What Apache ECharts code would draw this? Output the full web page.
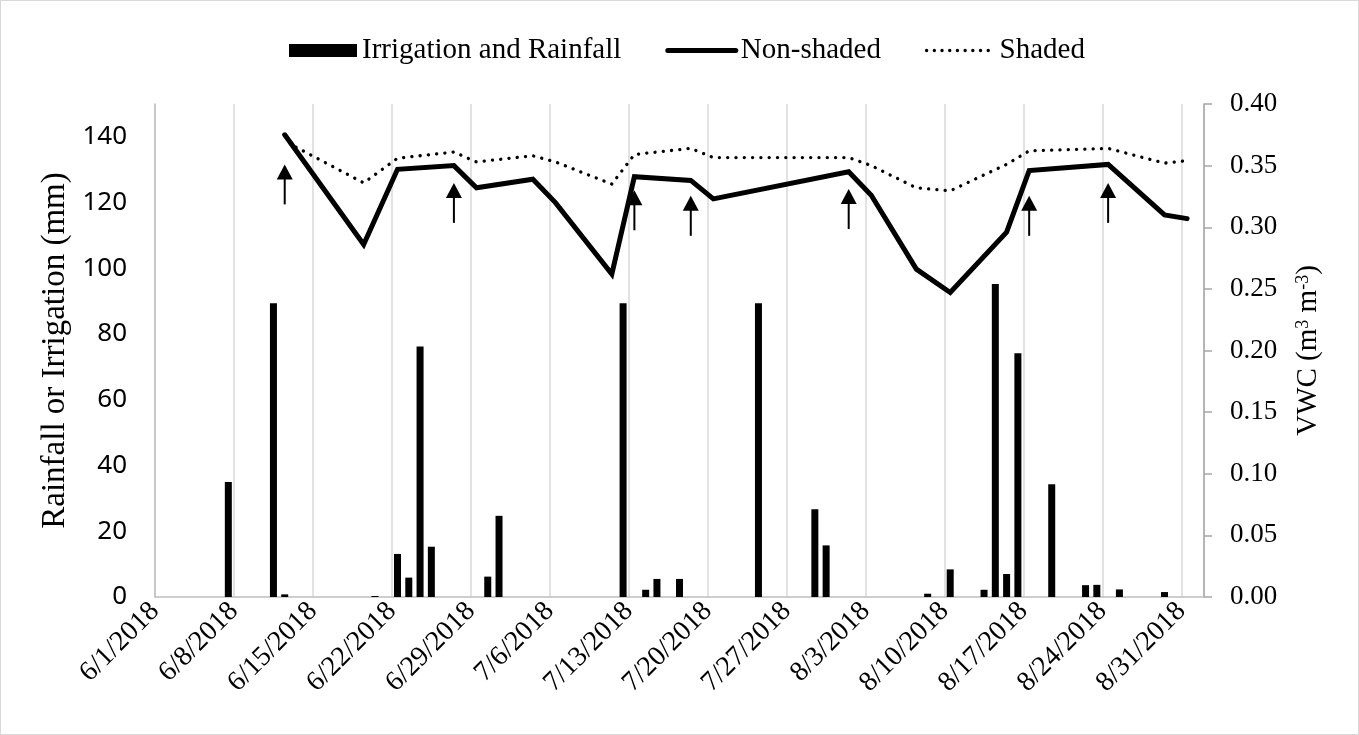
<!DOCTYPE html>
<html>
<head>
<meta charset="utf-8">
<script src="https://cdn.jsdelivr.net/npm/echarts@6/dist/echarts.min.js"></script>
<style>
html,body{margin:0;padding:0;background:#fff;}
#c{width:1359px;height:735px;box-sizing:border-box;border:1px solid #d9d9d9;}
</style>
</head>
<body>
<div id="c"></div>
<script>
// ---------- data ----------
const xTickLabels = ['6/1/2018','6/8/2018','6/15/2018','6/22/2018','6/29/2018','7/6/2018','7/13/2018','7/20/2018','7/27/2018','8/3/2018','8/10/2018','8/17/2018','8/24/2018','8/31/2018'];
const leftTicks = [0,20,40,60,80,100,120,140];

const rainDates = ['6/7','6/11','6/12','6/20','6/22','6/23','6/24','6/25','6/30','7/1','7/12','7/14','7/15','7/17','7/24','7/29','7/30','8/8','8/10','8/13','8/14','8/15','8/16','8/19','8/22','8/23','8/25','8/29'];
const rainValues = [35,89.4,0.8,0.3,13.1,5.9,76.2,15.3,6.2,24.7,89.4,2.2,5.5,5.5,89.4,26.7,15.7,1.0,8.4,2.2,95.2,7.0,74.2,34.3,3.6,3.7,2.3,1.5];

const nonShadedDates = ['6/12','6/19','6/22','6/27','6/29','7/4','7/6','7/11','7/13','7/18','7/20','8/1','8/3','8/7','8/10','8/15','8/17','8/24','8/29','8/31'];
const nonShadedValues = [0.375,0.286,0.347,0.350,0.332,0.339,0.320,0.262,0.341,0.338,0.323,0.345,0.326,0.266,0.247,0.296,0.346,0.351,0.310,0.307];

const shadedDates = ['6/13','6/19','6/22','6/27','6/29','7/4','7/6','7/11','7/13','7/18','7/20','8/1','8/3','8/7','8/10','8/15','8/17','8/24','8/29','8/31'];
const shadedValues = [0.365,0.336,0.356,0.361,0.353,0.358,0.353,0.335,0.359,0.364,0.3565,0.3565,0.350,0.332,0.3296,0.351,0.362,0.364,0.352,0.354];

const arrowDates = ['6/12','6/27','7/13','7/18','8/1','8/17','8/24'];
const arrowTips = [0.351,0.336,0.330,0.3255,0.331,0.3255,0.336];

// ---------- helpers ----------
const monthStart = {6:0, 7:30, 8:61};
function dayCenter(md){ const p = md.split('/'); return monthStart[+p[0]] + (+p[1]) - 1 + 0.5; }
function pairs(dates, vals){ return dates.map((d,i)=>[dayCenter(d), vals[i]]); }

const serif = 'Liberation Serif, Times New Roman, serif';
const chart = echarts.init(document.getElementById('c'), null, {renderer:'canvas'});

const option = {
  animation:false,
  backgroundColor:'#fff',
  textStyle:{fontFamily:serif},
  legend:{
    top:30, left:283,
    itemWidth:68, itemHeight:13, itemGap:44,
    textStyle:{fontFamily:serif, fontSize:29, color:'#000'},
    data:[
      {name:'Irrigation and Rainfall', icon:'rect'},
      {name:'Non-shaded', itemStyle:{opacity:0}, lineStyle:{width:5, color:'#000', cap:'round'}},
      {name:'Shaded', itemStyle:{opacity:0}, lineStyle:{width:3.3, color:'#000', type:[0.1,7.6], cap:'round'}}
    ]
  },
  grid:{left:154, right:154, top:103, bottom:137, containLabel:false},
  xAxis:{
    type:'value', min:0, max:93, interval:7,
    axisLine:{show:true, lineStyle:{color:'#bfbfbf', width:1.5}},
    axisTick:{show:false},
    splitLine:{show:true, lineStyle:{color:'#d9d9d9', width:1.5}},
    axisLabel:{
      rotate:45, margin:10, color:'#000', fontFamily:serif, fontSize:28,
      formatter:function(v){ const i = v/7; return Number.isInteger(i) && xTickLabels[i] ? xTickLabels[i] : ''; }
    }
  },
  yAxis:[
    {
      type:'value', min:0, max:150, interval:20, position:'left',
      name:'Rainfall or Irrigation (mm)', nameLocation:'middle', nameGap:80, nameRotate:90,
      nameTextStyle:{fontFamily:serif, fontSize:33, color:'#000'},
      axisLine:{show:true, lineStyle:{color:'#bfbfbf', width:1.5}},
      axisTick:{show:false},
      splitLine:{show:false},
      axisLabel:{margin:28, color:'#000', fontFamily:'Noto Sans', fontSize:26,
        formatter:function(v){ return leftTicks.indexOf(v) >= 0 ? String(v) : ''; }}
    },
    {
      type:'value', min:0, max:0.4, interval:0.05, position:'right',
      name:'VWC (m{sup|3} m{sup|-3})', nameLocation:'middle', nameGap:90, nameRotate:90,
      nameTextStyle:{fontFamily:serif, fontSize:29, color:'#000',
        rich:{sup:{fontFamily:serif, fontSize:18, color:'#000', verticalAlign:'top', lineHeight:18, padding:[0,0,14,0]}}},
      axisLine:{show:true, lineStyle:{color:'#a6a6a6', width:1.5}},
      axisTick:{show:true, inside:false, length:8, lineStyle:{color:'#a6a6a6', width:1.5}},
      splitLine:{show:false},
      axisLabel:{margin:26, color:'#000', fontFamily:serif, fontSize:27,
        formatter:function(v){ return v.toFixed(2); }}
    }
  ],
  series:[
    {
      name:'Irrigation and Rainfall', type:'bar', yAxisIndex:0, barWidth:7,
      itemStyle:{color:'#000'},
      data:pairs(rainDates, rainValues), z:2
    },
    {
      name:'Non-shaded', type:'line', yAxisIndex:1, symbol:'none',
      lineStyle:{color:'#000', width:5, cap:'round', join:'miter'},
      itemStyle:{color:'#000'},
      data:pairs(nonShadedDates, nonShadedValues), z:4
    },
    {
      name:'Shaded', type:'line', yAxisIndex:1, symbol:'none',
      lineStyle:{color:'#000', width:3.3, type:[0.1,8.2], cap:'round'},
      itemStyle:{color:'#000'},
      data:pairs(shadedDates, shadedValues), z:3
    },
    {
      name:'arrows', type:'custom', yAxisIndex:1, silent:true, z:5,
      renderItem:function(params, api){
        const p = api.coord([api.value(0), api.value(1)]);
        return {type:'group', children:[
          {type:'polygon', shape:{points:[[p[0],p[1]],[p[0]-8,p[1]+15],[p[0]+8,p[1]+15]]}, style:{fill:'#000'}},
          {type:'line', shape:{x1:p[0], y1:p[1]+10, x2:p[0], y2:p[1]+40}, style:{stroke:'#000', lineWidth:2}}
        ]};
      },
      data:pairs(arrowDates, arrowTips)
    }
  ]
};
chart.setOption(option);
</script>
</body>
</html>
